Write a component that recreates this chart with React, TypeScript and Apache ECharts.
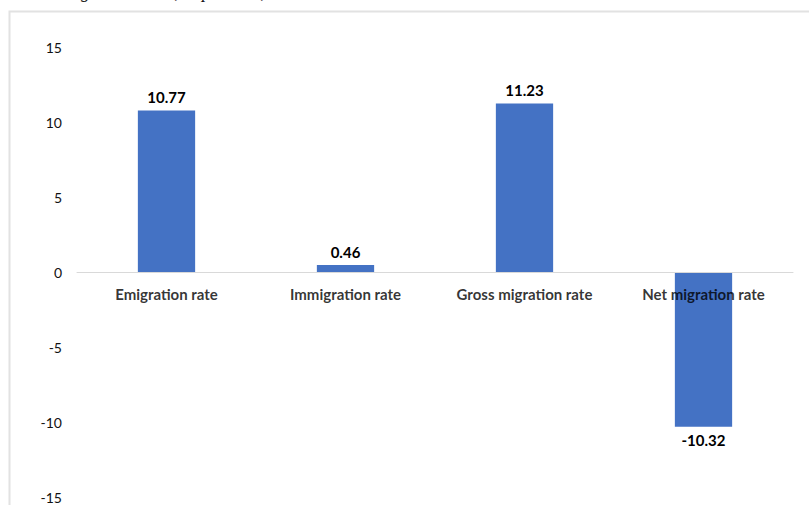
import React, { useEffect, useRef } from "react";
import * as echarts from "echarts";

const categories = ["Emigration rate", "Immigration rate", "Gross migration rate", "Net migration rate"];
const values = [10.77, 0.46, 11.23, -10.32];
const yTicks = { min: -15, max: 15, interval: 5 };
const titleText = "Emigration rates, in per cent, 2019";

export default function App() {
  const ref = useRef<HTMLDivElement>(null);
  useEffect(() => {
    document.body.style.margin = "0";
    const chart = echarts.init(ref.current!, null, { renderer: "svg" });
    const font = "Lato, 'Open Sans', sans-serif";
    chart.setOption({
      animation: false,
      grid: { left: 77, right: 16, top: 47, bottom: 8, containLabel: false, outerBoundsMode: "none" },
      graphic: [
        {
          type: "rect",
          shape: { x: 9.5, y: 11.5, width: 830, height: 530 },
          style: { fill: "none", stroke: "#e2e2e2", lineWidth: 2 },
          silent: true,
        },
        {
          type: "text",
          x: 52,
          y: 1,
          style: {
            text: titleText,
            font: "italic 18px 'Liberation Serif', serif",
            fill: "#111",
            textVerticalAlign: "bottom",
            verticalAlign: "bottom",
          },
          silent: true,
        },
      ],
      xAxis: {
        type: "category",
        data: categories,
        axisLine: { onZero: true, lineStyle: { color: "#d9d9d9", width: 1 } },
        axisTick: { show: false },
        axisLabel: { show: false },
        z: 10,
      },
      yAxis: {
        type: "value",
        min: yTicks.min,
        max: yTicks.max,
        interval: yTicks.interval,
        axisLine: { show: false },
        axisTick: { show: false },
        splitLine: { show: false },
        axisLabel: { margin: 15, fontFamily: font, fontSize: 14, color: "#111" },
      },
      series: [
        {
          type: "bar",
          barWidth: "32%",
          itemStyle: { color: "#4472C4" },
          data: values.map((v) => ({
            value: v,
            label: { position: v < 0 ? "bottom" : "top" },
          })),
          label: {
            show: true,
            distance: 6,
            fontFamily: font,
            fontWeight: "bold",
            fontSize: 15,
            color: "#000",
            formatter: (p: any) => p.value.toFixed(2),
          },
        },
        {
          type: "scatter",
          symbolSize: 0,
          silent: true,
          z: 20,
          data: categories.map((c) => [c, 0]),
          label: {
            show: true,
            position: "bottom",
            distance: 14,
            fontFamily: font,
            fontWeight: "bold",
            fontSize: 15,
            color: "#000",
            formatter: (p: any) => p.name || p.value[0],
          },
        },
      ],
    });
    return () => chart.dispose();
  }, []);
  return <div ref={ref} style={{ width: 809, height: 505 }} />;
}
